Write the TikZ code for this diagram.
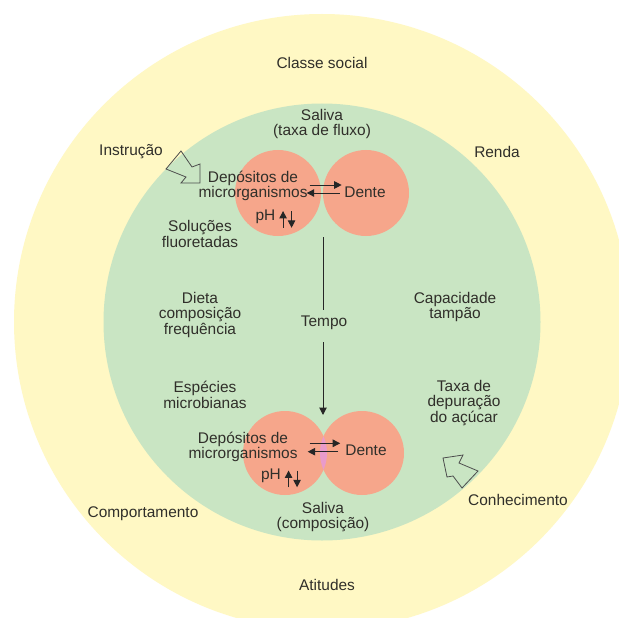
\documentclass[tikz,border=0pt]{standalone}
\usepackage{fontspec}
\setmainfont{Liberation Sans}
\usepackage{xcolor}
\usepackage{tikz}
\usetikzlibrary{positioning, arrows.meta}

\definecolor{outerY}{HTML}{FFF8C4}
\definecolor{innerG}{HTML}{C9E5C3}
\definecolor{blobC}{HTML}{F6A68B}
\definecolor{lensC}{HTML}{E99BCB}
\definecolor{inkC}{HTML}{302F2A}

\tikzset{
    lbl/.style={text=inkC, align=center, inner sep=0pt, font=\fontsize{15.5}{15.8}\selectfont},
    blob/.style={circle, fill=blobC, inner sep=0pt},
    link/.style={draw=black!85, line width=1pt},
    tip/.style={-{Triangle[width=7.5pt,length=7.5pt]}},
    hollow/.style={draw=black!70, line width=0.8pt, line join=miter}
}

\begin{document}
\begin{tikzpicture}[x=1bp, y=-1bp]
        \useasboundingbox (0,0) rectangle (619,618);
        \fill[white] (0,0) rectangle (619,618);
        % rings
        \begin{scope}
            \clip (0,0) rectangle (619,618);
            \fill[outerY] (322,322) circle[radius=308];
        \end{scope}
        \fill[innerG] (322,322) circle[radius=218.5];

        % plaque and tooth, before and after
        \node[blob, minimum size=86bp] (plaqueA) at (278,193) {};
        \node[blob, minimum size=86bp] (toothA) at (366,193) {};
        \node[blob, minimum size=84bp] (plaqueB) at (285,453) {};
        \node[blob, minimum size=84bp] (toothB) at (362,453) {};
        \begin{scope}
            \clip (plaqueB.center) circle[radius=42];
            \fill[lensC] (toothB.center) circle[radius=42];
        \end{scope}

        % outer ring
        \node[lbl] (classe) at (322,63) {Classe social};
        \node[lbl] (instr) at (131,152) {Instrução};
        \node[lbl] (renda) at (497,152) {Renda};
        \node[lbl] (comport) at (143,514) {Comportamento};
        \node[lbl] (conhec) at (518,500) {Conhecimento};
        \node[lbl] (atit) at (327,585) {Atitudes};

        % inner ring
        \node[lbl] (salivaA) at (322,124) {Saliva\\(taxa de fluxo)};
        \node[lbl] (solucoes) at (200,234) {Soluções\\fluoretadas};
        \node[lbl] (dieta) at (200,315) {Dieta\\composição\\frequência};
        \node[lbl] (capac) at (455,307) {Capacidade\\tampão};
        \node[lbl] (especies) at (205,395) {Espécies\\microbianas};
        \node[lbl] (depur) at (464,403) {Taxa de\\depuração\\do açúcar};
        \node[lbl] (salivaB) at (323,517) {Saliva\\(composição)};
        \node[lbl] (tempo) at (324,323) {Tempo};

        \node[lbl] (depA) at (253,186) {Depósitos de\\microrganismos};
        \node[lbl] (denA) at (365,192.5) {Dente};
        \node[lbl] (phA) at (265.5,216.5) {pH};
        \node[lbl] (depB) at (243,447) {Depósitos de\\microrganismos};
        \node[lbl] (denB) at (366,450.5) {Dente};
        \node[lbl] (phB) at (271,476) {pH};

        % exchange arrows
        \draw[link,tip] ([xshift=2bp,yshift=1bp]depA.east) -- ([xshift=-2.5bp,yshift=1bp]depA.east -| denA.west);
        \draw[link,tip] ([xshift=-4.5bp,yshift=-7bp]depA.east -| denA.west) -- ([xshift=-1bp,yshift=-7bp]depA.east);
        \draw[link,tip] ([xshift=12bp,yshift=3.7bp]depB.east) -- ([xshift=-5bp,yshift=3.7bp]depB.east -| denB.west);
        \draw[link,tip] ([xshift=-7bp,yshift=-4.7bp]depB.east -| denB.west) -- ([xshift=10bp,yshift=-4.7bp]depB.east);

        % pH up and down
        \draw[link,tip] ([xshift=7.5bp,yshift=-11.3bp]phA.east) -- ([xshift=7.5bp,yshift=5.5bp]phA.east);
        \draw[link,tip] ([xshift=16bp,yshift=5.5bp]phA.east) -- ([xshift=16bp,yshift=-11.3bp]phA.east);
        \draw[link,tip] ([xshift=7.5bp,yshift=-11.3bp]phB.east) -- ([xshift=7.5bp,yshift=5.5bp]phB.east);
        \draw[link,tip] ([xshift=16bp,yshift=5.5bp]phB.east) -- ([xshift=16bp,yshift=-11.3bp]phB.east);

        % time axis
        \coordinate (tStart) at (323,237);
        \coordinate (tEnd) at (323,415);
        \draw[link] (tStart) -- (tStart |- tempo.north) [shorten >=6bp];
        \draw[link,tip] ([yshift=-12bp]tempo.south -| tEnd) -- (tEnd);

        % hollow block arrows
        \draw[hollow] (181,151) -- (192,167) -- (200,164) -- (200,183) -- (181,183) -- (186,177) -- (166,169) -- cycle;
        \draw[hollow] (443,458) -- (463,455) -- (459,463) -- (478,471) -- (462,488) -- (453,476) -- (447,477) -- cycle;
    \end{tikzpicture}
\end{document}
